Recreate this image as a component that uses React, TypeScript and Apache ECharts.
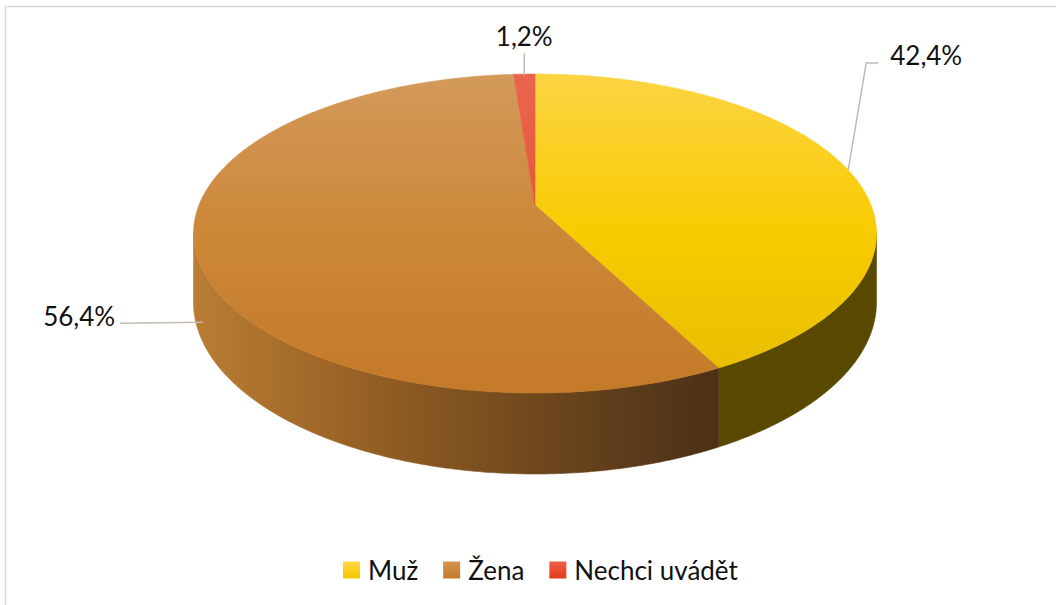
import React, { useEffect, useRef } from 'react';
import * as echarts from 'echarts';

// ---- data ----
const CATEGORIES = ['Muž', 'Žena', 'Nechci uvádět'];
const VALUES = [42.4, 56.4, 1.2];

// ---- styles ----
const FONT = 'Lato, "Noto Sans", sans-serif';
const TOP_FILLS = [
  [[0, '#FCD443'], [0.5, '#F8CB00'], [1, '#E6BC00']],
  [[0, '#D39A5A'], [0.5, '#CC8738'], [1, '#C47A28']],
  [[0, '#E9664E'], [1, '#E63F1E']],
];
const SIDE_FILLS = [
  [[0, '#5F4F00'], [1, '#594900']],
  [[0, '#B97D33'], [0.27, '#9D6527'], [0.4, '#8C5A22'], [0.85, '#5A3A1A'], [1, '#4D3117']],
  [[0, '#B0301A'], [1, '#902810']],
];
const LEGEND_FILLS = [
  [[0, '#FFD93E'], [1, '#F4C600']],
  [[0, '#D49450'], [1, '#C47A2A']],
  [[0, '#EC6048'], [1, '#E23A18']],
];

// perspective ellipse geometry
const G = { cx: 535, cy: 205, A: 336, B: 154.4, k: 0.1787, D: 66.5 };
const PHI1 = Math.acos(-G.k);
const PHI2 = 2 * Math.PI - PHI1;

// label layout: anchor on top or bottom edge, leader offsets, text offset
const LABEL_LAYOUT = [
  { anchor: 'top', pts: [[0, 0], [18, -107], [30, -107]], text: [12, -8], align: 'left' },
  { anchor: 'bottom', pts: [[8, 3], [-75, 4]], text: [-5, -7], align: 'right' },
  { anchor: 'top', pts: [[0, 1], [0, -21]], text: [0, -17], align: 'center' },
];

function topPt(phi: number) {
  const u = Math.sin(phi);
  const v = -Math.cos(phi);
  const s = 1 / (1 - G.k * v);
  return [G.cx + G.A * u * s, G.cy + G.B * v * s];
}
function botPt(phi: number) {
  const p = topPt(phi);
  const v = -Math.cos(phi);
  const s = 1 / (1 - G.k * v);
  return [p[0], p[1] + G.D * s];
}
function arc(a: number, b: number, f: (p: number) => number[]) {
  const n = Math.max(2, Math.ceil(Math.abs(b - a) / (Math.PI / 360)));
  const out: number[][] = [];
  for (let i = 0; i <= n; i++) out.push(f(a + ((b - a) * i) / n));
  return out;
}
function stops(arr: any[]) {
  return arr.map(([offset, color]) => ({ offset, color }));
}

const TOTAL = VALUES.reduce((a, b) => a + b, 0);

function makeRenderItem(idx: number) {
  return (params: any, api: any) => {
    const before = VALUES.slice(0, idx).reduce((a, b) => a + b, 0);
    const start = (before / TOTAL) * Math.PI * 2;
    const end = start + (api.value(0) / TOTAL) * Math.PI * 2;
    const children: any[] = [];

    // side wall
    const a = Math.max(start, PHI1);
    const b = Math.min(end, PHI2);
    if (a < b) {
      const pts = arc(a, b, topPt).concat(arc(b, a, botPt));
      const side = new echarts.graphic.LinearGradient(195, 0, 714, 0, stops(SIDE_FILLS[idx]), true);
      children.push({
        type: 'polygon',
        shape: { points: pts },
        style: { fill: side, stroke: side, lineWidth: 0.6 },
      });
    }
    // top face
    const topPts = [[G.cx, G.cy]].concat(arc(start, end, topPt));
    const top = new echarts.graphic.LinearGradient(0, 74, 0, 393, stops(TOP_FILLS[idx]), true);
    children.push({
      type: 'polygon',
      shape: { points: topPts },
      style: { fill: top, stroke: top, lineWidth: 0.6 },
    });

    // label
    const mid = (start + end) / 2;
    const L = LABEL_LAYOUT[idx];
    const anc = L.anchor === 'top' ? topPt(mid) : botPt(mid);
    const line = L.pts.map((o) => [anc[0] + o[0], anc[1] + o[1]]);
    children.push({
      type: 'polyline',
      shape: { points: line },
      style: { stroke: '#C4BAB0', lineWidth: 1.5, fill: null },
    });
    const last = line[line.length - 1];
    const txt = api.value(0).toFixed(1).replace('.', ',') + '%';
    children.push({
      type: 'text',
      x: last[0] + L.text[0],
      y: last[1] + L.text[1],
      style: {
        text: txt,
        fill: '#111',
        font: `26px ${FONT}`,
        align: L.align,
        verticalAlign: 'middle',
      },
    });
    return { type: 'group', children };
  };
}

export default function App() {
  const ref = useRef<HTMLDivElement>(null);
  useEffect(() => {
    if (!ref.current) return;
    const chart = echarts.init(ref.current, null, { renderer: 'svg' });
    chart.setOption({
      animation: false,
      backgroundColor: '#ffffff',
      legend: {
        left: 338,
        top: 552,
        icon: 'rect',
        itemWidth: 17,
        itemHeight: 17,
        itemGap: 25,
        selectedMode: false,
        textStyle: { fontFamily: FONT, fontSize: 26, color: '#111', padding: [0, 0, 0, 3] },
        data: CATEGORIES,
      },
      graphic: [
        {
          type: 'rect',
          shape: { x: 5.5, y: 6.5, width: 1100, height: 700 },
          style: { fill: 'none', stroke: '#DDDAD6', lineWidth: 1.5 },
          silent: true,
          z: -1,
        },
      ],
      series: CATEGORIES.map((name, i) => ({
        type: 'custom',
        name,
        coordinateSystem: 'none',
        silent: true,
        itemStyle: {
          color: new echarts.graphic.LinearGradient(0, 0, 0, 1, stops(LEGEND_FILLS[i])),
        },
        data: [[VALUES[i]]],
        renderItem: makeRenderItem(i),
      })),
    });
    return () => chart.dispose();
  }, []);
  return (
    <div
      ref={ref}
      style={{ position: 'fixed', left: 0, top: 0, width: 1056, height: 605 }}
    />
  );
}
